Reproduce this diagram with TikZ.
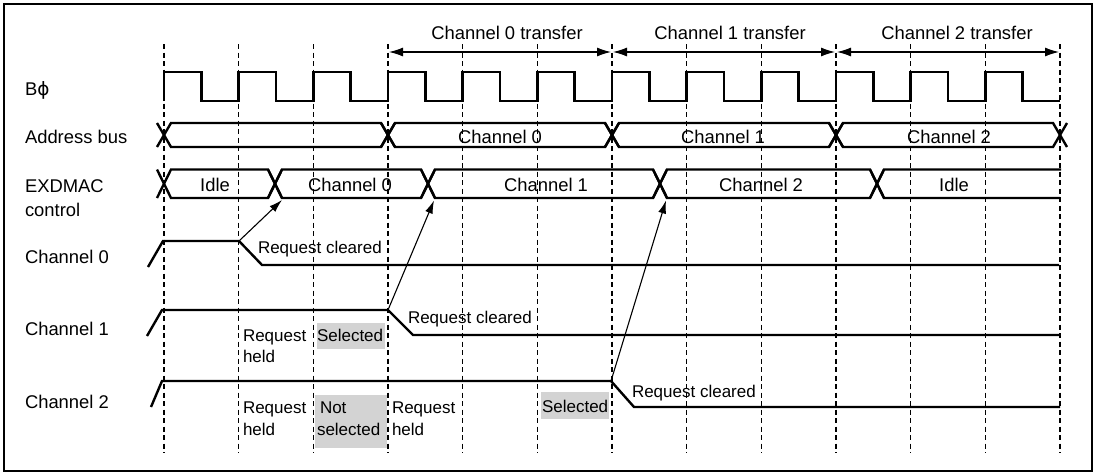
\documentclass[tikz,border=0pt]{standalone}
\usepackage{fontspec}
\setmainfont{Liberation Sans}
\newfontfamily\dejavu{DejaVu Sans}
\usetikzlibrary{arrows.meta}
\definecolor{selgray}{RGB}{211,211,211}
\begin{document}
\begin{tikzpicture}[x=1pt,y=-1pt,
  sig/.style={line width=2.4pt},
  gridline/.style={line width=1.2pt, dash pattern=on 5pt off 3.5pt},
  lbl/.style={inner sep=0pt, outer sep=0pt, font=\fontsize{18.4}{22}\selectfont},
  note/.style={inner sep=0pt, outer sep=0pt, font=\fontsize{17}{21}\selectfont},
  spanarrow/.style={line width=1.1pt, {Latex[length=14pt,width=9pt]}-{Latex[length=14pt,width=9pt]}},
  reqarrow/.style={line width=1.1pt, -{Latex[length=13pt,width=8pt]}},
  selbox/.style={fill=selgray}
]
\useasboundingbox (0,0) rectangle (1099,472);
% frame
\draw[line width=2pt] (4,4.2) rectangle (1092,470.8);
% dashed grid
\foreach \k in {0,...,12} {
  \draw[gridline] ({164+74.6667*\k},44) -- ({164+74.6667*\k},453);
}
% gray boxes
\fill[selbox] (316.7,322.7) rectangle (385,349);
\fill[selbox] (315,395) rectangle (386.7,448);
\fill[selbox] (541,392) rectangle (609.3,419);
% transfer spans
\coordinate (t0a) at (389,52); \coordinate (t0b) at (611,52);
\coordinate (t1a) at (613,52); \coordinate (t1b) at (835,52);
\coordinate (t2a) at (837,52); \coordinate (t2b) at (1059,52);
\draw[spanarrow] (t0a) -- (t0b);
\draw[spanarrow] (t1a) -- (t1b);
\draw[spanarrow] (t2a) -- (t2b);
\node[lbl, anchor=base] (tl0) at (507,39) {Channel 0 transfer};
\node[lbl, anchor=base] (tl1) at (730,39) {Channel 1 transfer};
\node[lbl, anchor=base] (tl2) at (957,39) {Channel 2 transfer};
% clock
\draw[sig] (164,101) \foreach \k in {0,...,11} {
  -- ({164+74.6667*\k},71.7) -- ({164+74.6667*\k+37.33},71.7)
  -- ({164+74.6667*\k+37.33},101) -- ({164+74.6667*(\k+1)},101) };
% address bus
\foreach \a/\b in {164/388, 388/612, 612/836, 836/1060} {
  \draw[sig] ({\a-7},147) -- ({\a+7},123) -- ({\b-7},123) -- ({\b+7},147);
  \draw[sig] ({\a-7},123) -- ({\a+7},147) -- ({\b-7},147) -- ({\b+7},123);
}
% EXDMAC control
\foreach \a/\b in {164/275, 275/428, 428/660, 660/877} {
  \draw[sig] ({\a-7},198) -- ({\a+7},169.5) -- ({\b-7},169.5) -- ({\b+7},198);
  \draw[sig] ({\a-7},169.5) -- ({\a+7},198) -- ({\b-7},198) -- ({\b+7},169.5);
}
\draw[sig] (870,198) -- (884,169.5) -- (1061,169.5);
\draw[sig] (870,169.5) -- (884,198) -- (1060,198);
% channel request lines
\draw[sig] (148,267) -- (163,241) -- (239,241) -- (262,265) -- (1059,265);
\draw[sig] (147,336) -- (162,310) -- (388,310) -- (413,335) -- (1059,335);
\draw[sig] (151,407) -- (162,381) -- (611,381) -- (634,407) -- (1060,407);
% request arrows
\coordinate (r0) at (239,241); \coordinate (e0) at (282,200);
\coordinate (r1) at (388,310); \coordinate (e1) at (434,200.5);
\coordinate (r2) at (611,381); \coordinate (e2) at (666,200.5);
\draw[reqarrow] (r0) -- (e0);
\draw[reqarrow] (r1) -- (e1);
\draw[reqarrow] (r2) -- (e2);
% left labels
\node[lbl, anchor=base west] (lB) at (25,95) {B{\dejavu ϕ}};
\node[lbl, anchor=base west] (lAddr) at (25,143) {Address bus};
\node[lbl, anchor=base west] (lEx1) at (25,192) {EXDMAC};
\node[lbl, anchor=base west] (lEx2) at (25,216) {control};
\node[lbl, anchor=base west] (lC0) at (25,263) {Channel 0};
\node[lbl, anchor=base west] (lC1) at (25,335) {Channel 1};
\node[lbl, anchor=base west] (lC2) at (25,408) {Channel 2};
% address bus labels
\node[lbl, anchor=base] (a0) at (500,143) {Channel 0};
\node[lbl, anchor=base] (a1) at (723,143) {Channel 1};
\node[lbl, anchor=base] (a2) at (949,143) {Channel 2};
% EXDMAC labels
\node[lbl, anchor=base] (x0) at (215,191.5) {Idle};
\node[lbl, anchor=base] (x1) at (350,191.5) {Channel 0};
\node[lbl, anchor=base] (x2) at (546,191.5) {Channel 1};
\node[lbl, anchor=base] (x3) at (761,191.5) {Channel 2};
\node[lbl, anchor=base] (x4) at (954,191.5) {Idle};
% notes
\node[note, anchor=base west] (rc0) at (258,253) {Request cleared};
\node[note, anchor=base west] (rc1) at (408,323) {Request cleared};
\node[note, anchor=base west] (rc2) at (632,397) {Request cleared};
\node[note, anchor=base west] (h1a) at (243,341) {Request};
\node[note, anchor=base west] (h1b) at (243,362) {held};
\node[note, anchor=base west] (s1) at (317,341) {Selected};
\node[note, anchor=base west] (h2a) at (243,413) {Request};
\node[note, anchor=base west] (h2b) at (243,435) {held};
\node[note, anchor=base west] (n2a) at (320,413) {Not};
\node[note, anchor=base west] (n2b) at (317,435) {selected};
\node[note, anchor=base west] (h3a) at (392,413) {Request};
\node[note, anchor=base west] (h3b) at (392,435) {held};
\node[note, anchor=base west] (s2) at (542,412) {Selected};
\end{tikzpicture}
\end{document}
